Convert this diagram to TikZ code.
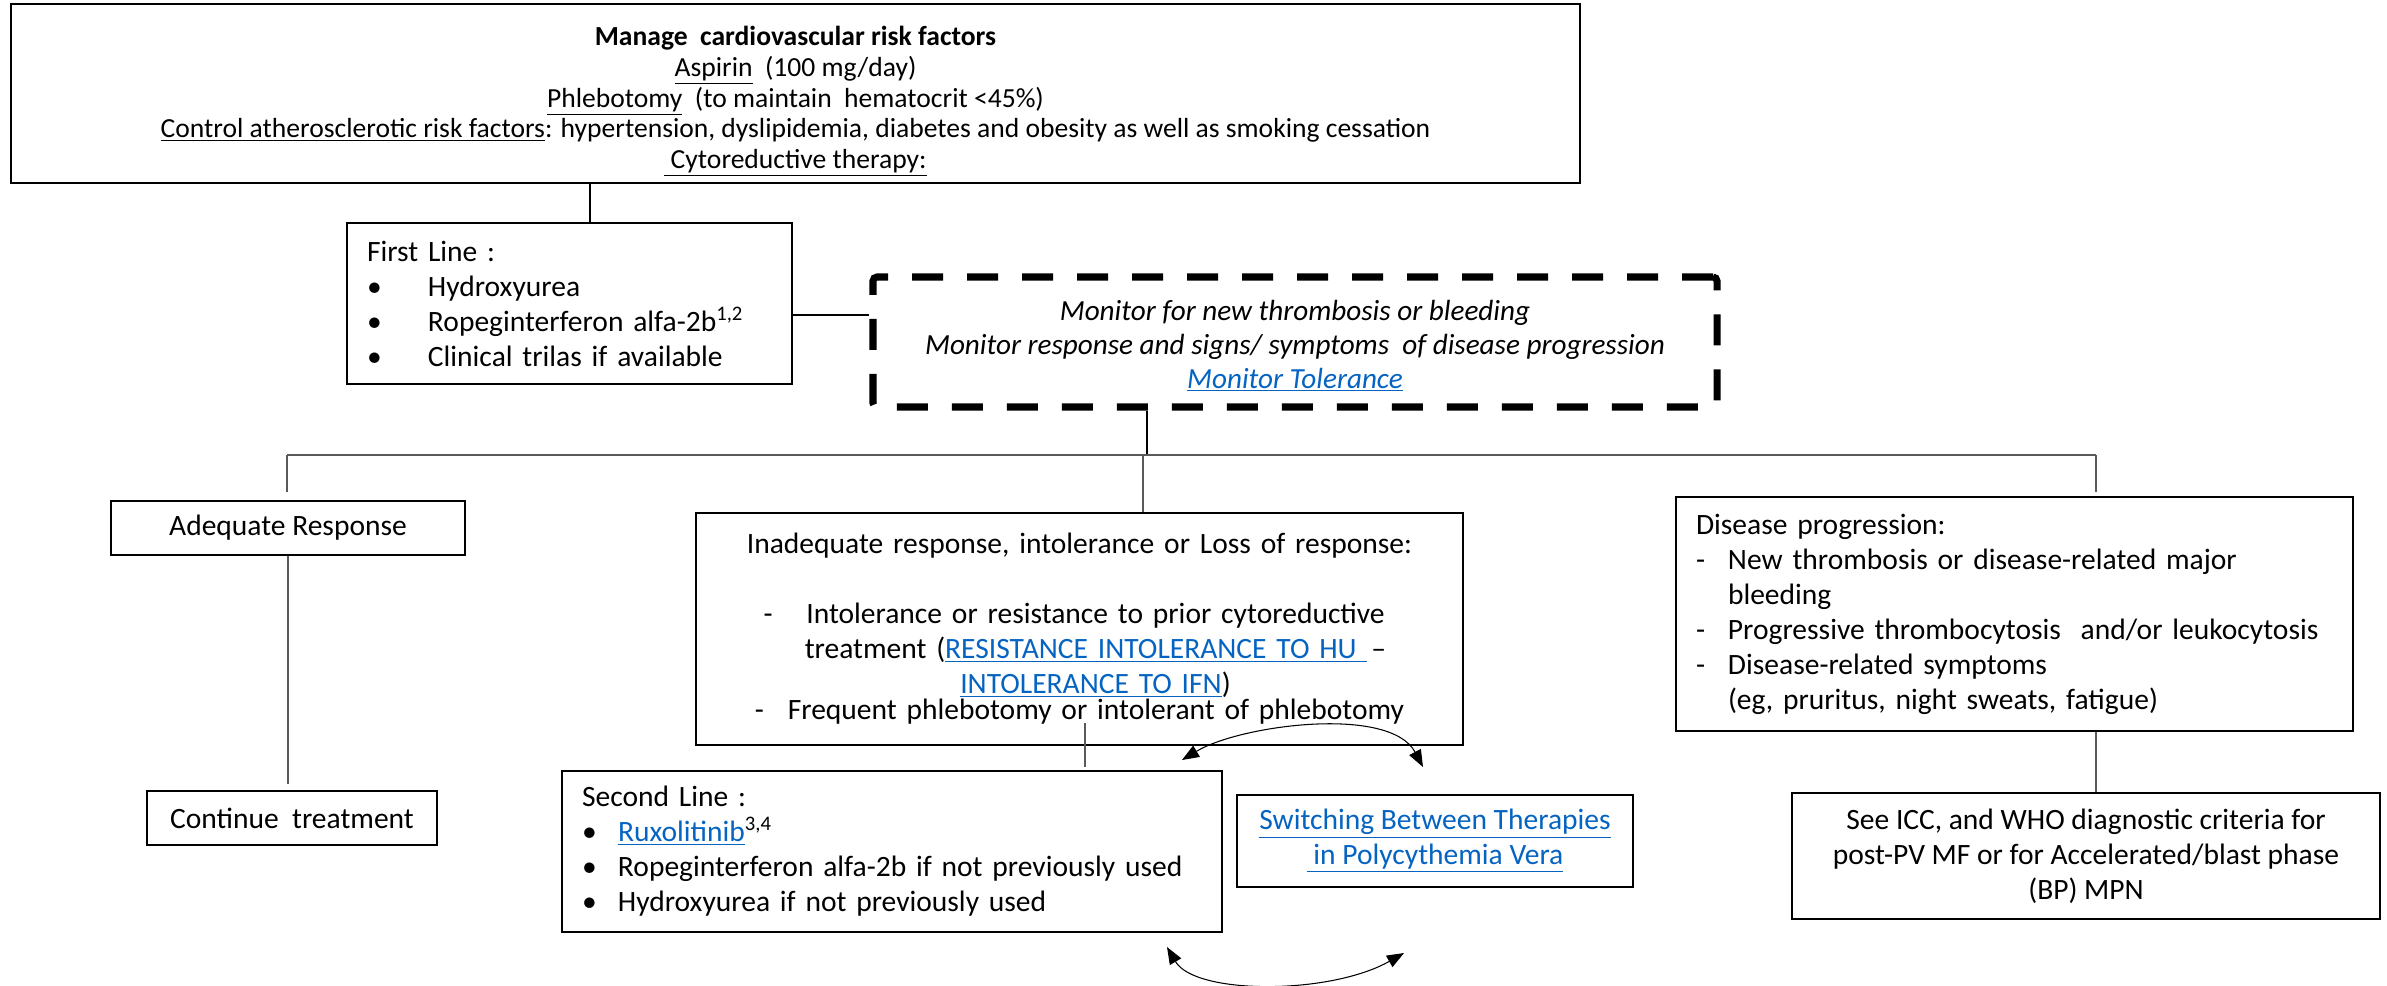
\documentclass[tikz,border=0pt]{standalone}
\usepackage{fontspec}
\setmainfont{Carlito}
\usetikzlibrary{arrows.meta, positioning, calc}

\definecolor{linkblue}{HTML}{0563C1}
\definecolor{branchgray}{HTML}{595959}
\newlength{\ux}
\setlength{\ux}{0.02cm}
\newcommand{\lnk}[1]{\textcolor{linkblue}{\underline{#1}}}

\begin{document}
\begin{tikzpicture}[
  x=0.02cm, y=-0.02cm,
  box/.style    = {draw, line width=1.1pt, inner xsep=20\ux, inner ysep=0pt,
                   font=\fontsize{16.8}{19.9}\selectfont},
  topbox/.style = {draw, line width=1.5pt, inner ysep=0pt, align=center,
                   font=\fontsize{15.7}{17.5}\selectfont},
  watch/.style  = {draw, line width=4pt, dash pattern=on 31\ux off 24\ux,
                   rounded corners=4\ux, inner ysep=0pt, align=center,
                   font=\fontsize{16.6}{19.3}\selectfont\itshape},
  link/.style   = {line width=0.6pt, black},
  branch/.style = {line width=0.9pt, branchgray},
  swap/.style   = {line width=0.6pt,
                   {Triangle[length=0.34cm, width=0.26cm]}-{Triangle[length=0.34cm, width=0.26cm]}}
]
  \useasboundingbox (0,0) rectangle (2387,985);

  % Cardiovascular risk management
  \node[topbox, minimum width=1569\ux, minimum height=179\ux] (manage) at (795.5,93.5) {
    \rule{0pt}{20pt}\textbf{Manage\ \ cardiovascular risk factors}\\
    \underline{Aspirin}\ \ (100 mg/day)\\
    \underline{Phlebotomy}\ \ (to maintain\ \ hematocrit <45\%)\\
    \underline{Control atherosclerotic risk factors}: hypertension, dyslipidemia, diabetes and obesity as well as smoking cessation\\
    \underline{\ Cytoreductive therapy:}
  };

  % First line
  \node[box, text width=405\ux, minimum height=161\ux, align=left] (firstline) at (569.5,303.5) {
    First Line :\\
    \makebox[61\ux][l]{\textbullet}Hydroxyurea\\
    \makebox[61\ux][l]{\textbullet}Ropeginterferon alfa-2b\textsuperscript{1,2}\\
    \makebox[61\ux][l]{\textbullet}Clinical trilas if available
  };

  % Monitoring (dashed)
  \node[watch, minimum width=844\ux, minimum height=130\ux] (monitor) at (1295,342) {
    \rule{0pt}{16pt}Monitor for new thrombosis or bleeding\\
    Monitor response and signs/ symptoms\ \ of disease progression\\
    \lnk{Monitor Tolerance}
  };

  % Adequate response
  \node[box, minimum width=354\ux, minimum height=54\ux] (adequate) at (288,528) {Adequate Response};

  % Continue
  \node[box, minimum width=290\ux, minimum height=54\ux, below=234\ux of adequate, xshift=4\ux] (continue) {Continue\ \ treatment};

  % Inadequate response
  \node[box, text width=727\ux, minimum height=232\ux, align=center] (inadequate) at (1079.5,629) {
    Inadequate response, intolerance or Loss of response:\\[19.9pt]
    \makebox[32\ux][l]{-}\parbox[t]{600\ux}{\centering Intolerance or resistance to prior cytoreductive\\
      treatment (\lnk{RESISTANCE INTOLERANCE TO HU\ }\,–\\ \lnk{INTOLERANCE TO IFN})}\\
    \makebox[33\ux][l]{-}Frequent phlebotomy or intolerant of phlebotomy
  };

  % Disease progression
  \node[box, text width=637\ux, minimum height=234\ux, align=left] (progress) at (2014.5,614) {
    Disease progression:\\
    \makebox[32\ux][l]{-}New thrombosis or disease-related major\\
    \hspace*{32\ux}bleeding\\
    \makebox[32\ux][l]{-}Progressive thrombocytosis\ \ and/or leukocytosis\\
    \makebox[32\ux][l]{-}Disease-related symptoms\\
    \hspace*{32\ux}(eg, pruritus, night sweats, fatigue)
  };

  % Second line
  \node[box, text width=620\ux, minimum height=161\ux, align=left] (secondline) at (892,851.5) {
    Second Line :\\
    \makebox[36\ux][l]{\textbullet}\lnk{Ruxolitinib}\textsuperscript{3,4}\\
    \makebox[36\ux][l]{\textbullet}\mbox{Ropeginterferon alfa-2b if not previously used}\\
    \makebox[36\ux][l]{\textbullet}Hydroxyurea if not previously used
  };

  % Switching therapies
  \node[box, minimum width=396\ux, minimum height=92\ux, align=center] (switching) at (1435,841) {
    \lnk{Switching Between Therapies}\\
    \lnk{\ in Polycythemia Vera}
  };

  % Diagnostic criteria
  \node[box, minimum width=588\ux, minimum height=126\ux, align=center] (criteria) at (2086,856) {
    See ICC, and WHO diagnostic criteria for\\
    post-PV MF or for Accelerated/blast phase\\
    (BP) MPN
  };

  % manage -> first line
  \coordinate (drop) at (590,0);
  \draw[link] (manage.south -| drop) -- (firstline.north -| drop);

  % first line -> monitor
  \coordinate (tie) at (0,315);
  \draw[link] (firstline.east |- tie) -- (monitor.west |- tie);

  % monitor -> branch
  \coordinate (fork)  at (1147,455);
  \coordinate (forkL) at (287,455);
  \coordinate (forkM) at (1143,455);
  \coordinate (forkR) at (2096,455);
  \draw[link] (monitor.south -| fork) -- (fork);
  \draw[branch] (forkL) -- (forkR);
  \draw[branch, shorten >=8\ux] (forkL) -- (adequate.north -| forkL);
  \draw[branch] (forkM) -- (inadequate.north -| forkM);
  \draw[branch, shorten >=4\ux] (forkR) -- (progress.north -| forkR);

  % downward links
  \draw[branch, shorten >=6\ux] (adequate.south) -- (adequate.south |- continue.north);
  \coordinate (pass) at (1085,0);
  \draw[branch, shorten >=3\ux] ([yshift=23\ux]inadequate.south -| pass) -- (secondline.north -| pass);
  \draw[branch] (progress.south -| forkR) -- (criteria.north -| forkR);

  % switching arrows
  \coordinate (swapA) at (1182,760);
  \coordinate (swapB) at (1423,767);
  \coordinate (swapC) at (1167,947);
  \coordinate (swapD) at (1404,953);
  \draw[swap] (swapA) .. controls (1240,725) and (1390,705) .. (swapB);
  \draw[swap] (swapC) .. controls (1195,995) and (1330,995) .. (swapD);

\end{tikzpicture}
\end{document}
